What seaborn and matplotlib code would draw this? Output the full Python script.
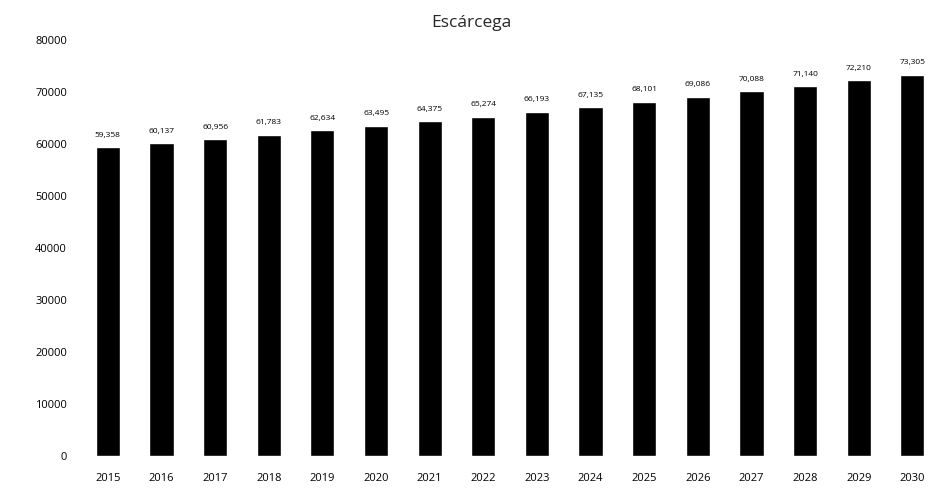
import matplotlib
matplotlib.use("Agg")
import matplotlib.pyplot as plt
import seaborn as sns
import pandas as pd

years = [str(y) for y in range(2015, 2031)]
population = [59358, 60137, 60956, 61783, 62634, 63495, 64375, 65274,
              66193, 67135, 68101, 69086, 70088, 71140, 72210, 73305]

df = pd.DataFrame({"year": years, "population": population})

sns.set_theme(style="white")
plt.rcParams['font.family'] = ['Open Sans', 'DejaVu Sans']

fig = plt.figure(figsize=(9.42, 4.93), dpi=100)
ax = fig.add_axes([0.086, 0.075, 0.911, 0.844])

sns.barplot(data=df, x="year", y="population", color="black", width=0.45,
            saturation=1, ax=ax)

for i, v in enumerate(population):
    ax.text(i, v + 1600, f"{v:,}", ha="center", va="bottom", fontsize=6, color="black")

ax.set_ylim(0, 80000)
ax.set_xlim(-0.5, len(years) - 0.5)
ax.set_yticks(range(0, 80001, 10000))
ax.tick_params(axis="both", labelsize=8, length=0, colors="black")
ax.tick_params(axis="y", pad=10)
ax.tick_params(axis="x", pad=12)
ax.set_xlabel("")
ax.set_ylabel("")
for s in ax.spines.values():
    s.set_visible(False)

fig.suptitle("Escárcega", y=0.97, fontsize=12.5)

fig.savefig("out.png", dpi=100)
